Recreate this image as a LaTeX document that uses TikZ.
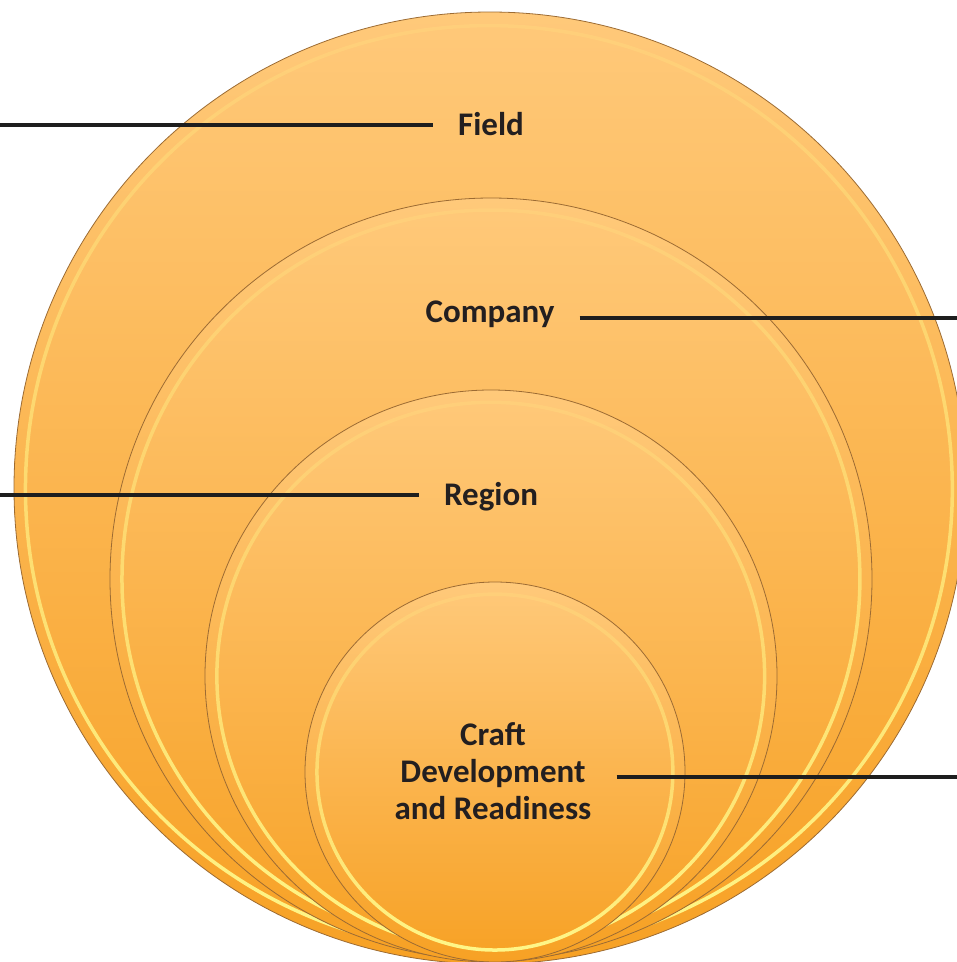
\documentclass[tikz,border=0pt]{standalone}
\usepackage{fontspec}
\setmainfont{Carlito}
\usetikzlibrary{fadings}

\definecolor{discTop}{HTML}{FFC97A}
\definecolor{discBot}{HTML}{F7A124}
\definecolor{discRim}{HTML}{9C6B33}
\definecolor{discGlow}{HTML}{FFF88A}
\definecolor{leaderInk}{HTML}{1E1E1E}
\definecolor{labelInk}{HTML}{231F20}

\tikzfading[name=rimfade, top color=transparent!85, bottom color=transparent!0]

\begin{document}
\begin{tikzpicture}[x=1pt,y=-1pt]
\tikzstyle{disc}=[draw=discRim,line width=0.8pt,top color=discTop,bottom color=discBot]
\tikzstyle{glow}=[draw=discGlow,line width=3.5pt,path fading=rimfade]
\tikzstyle{lbl}=[align=center,font=\fontsize{33}{37}\selectfont\bfseries,text=labelInk,inner xsep=25pt,inner ysep=0pt]
\tikzstyle{leader}=[draw=leaderInk,line width=4pt]

\useasboundingbox (0,0) rectangle (957,962);

% nested discs, outside in
\foreach \cx/\cy/\r in {490/488/476, 491/579/381, 491/676/286, 495/772/190}{
  \path[disc] (\cx,\cy) circle ({\r pt});
  \path[glow] (\cx,\cy) circle ({\r pt-12pt});
}

\node[lbl,anchor=base] (field) at (491,135) {Field};
\node[lbl,anchor=base] (company) at (490,322) {Company};
\node[lbl,anchor=base] (region) at (491,505) {Region};
\node[lbl] (craft) at (493,771) {Craft\\Development\\and Readiness};

\coordinate (fieldL) at (0,125);
\coordinate (companyR) at (957,318);
\coordinate (regionL) at (0,495);
\coordinate (craftR) at (957,777);

\draw[leader] (fieldL) -- (fieldL -| field.west);
\draw[leader] (companyR -| company.east) -- (companyR);
\draw[leader] (regionL) -- (regionL -| region.west);
\draw[leader] (craftR -| craft.east) -- (craftR);
\end{tikzpicture}
\end{document}
